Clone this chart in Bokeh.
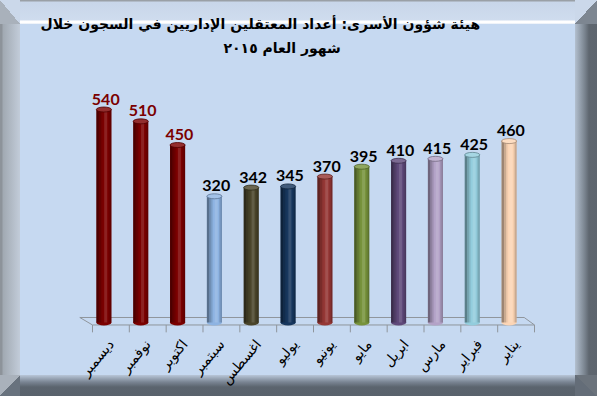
import math
from bokeh.plotting import figure
from bokeh.models import FactorRange, Range1d, ColumnDataSource, Title
from bokeh.transform import dodge
from bokeh.core.properties import value
from bokeh.embed import file_html
from bokeh.resources import INLINE

# ---- data ----
months = ["ديسمبر", "نوفمبر", "اكتوبر", "سبتمبر", "اغسطس", "يوليو",
          "يونيو", "مايو", "ابريل", "مارس", "فبراير", "يناير"]
counts = [540, 510, 450, 320, 342, 345, 370, 395, 410, 415, 425, 460]
bar_colors = ["#7b0000", "#7b0000", "#7b0000", "#8db3e2", "#4a452a", "#17375e",
              "#953735", "#77933c", "#5f497a", "#b3a2c7", "#93cddd", "#fcd5b5"]
label_colors = ["#7b0000", "#7b0000", "#7b0000"] + ["#000000"] * 9
title_line1 = "هيئة شؤون الأسرى: أعداد المعتقلين الإداريين في السجون خلال"
title_line2 = "شهور العام ٢٠١٥"

BG = "#c6d9f1"


def mix(c, other, t):
    c = c.lstrip("#"); o = other.lstrip("#")
    a = [int(c[i:i + 2], 16) for i in (0, 2, 4)]
    b = [int(o[i:i + 2], 16) for i in (0, 2, 4)]
    return "#%02x%02x%02x" % tuple(int(round(a[i] * (1 - t) + b[i] * t)) for i in range(3))


cap_colors = [mix(c, "#ffffff", 0.18) for c in bar_colors]
cap_lines = [mix(c, "#000000", 0.35) for c in bar_colors]

src = ColumnDataSource(dict(month=months, count=counts, color=bar_colors,
                            cap=cap_colors, capline=cap_lines,
                            label=[str(v) for v in counts], lcolor=label_colors,
                            zero=[0] * len(months)))

p = figure(x_range=FactorRange(*months, range_padding=0.434, range_padding_units="absolute"),
           y_range=Range1d(-27.9, 664.3),
           width=597, height=396, output_backend="svg", toolbar_location=None,
           title=None, y_axis_location=None,
           min_border_left=76, min_border_right=47, min_border_top=60, min_border_bottom=63,
           background_fill_color=BG, border_fill_color=BG)
p.border_fill_alpha = 0
p.outline_line_color = None
p.grid.visible = False

# bevelled picture frame drawn as the figure's CSS background (behind the transparent border)
LB, TB, RB, BB = 20, 24, 22, 21
layers = [
    ("linear-gradient(to top right, #a9b1bb 50%, #cbd8ea 50%)", "%dpx %dpx" % (LB, TB), "left top"),
    ("linear-gradient(to top left, #7d8691 50%, #cbd8ea 50%)", "%dpx %dpx" % (RB, TB), "right top"),
    ("linear-gradient(to bottom right, #a9b1bb 50%, #68727e 50%)", "%dpx %dpx" % (LB, BB), "left bottom"),
    ("linear-gradient(to bottom left, #6b737c 50%, #646d78 50%)", "%dpx %dpx" % (RB, BB), "right bottom"),
    ("linear-gradient(to bottom, #9aa0a6 0px, #9aa0a6 1px, #c8d6e9 2px, #cfdcee 20px, "
     "#ffffff 21px, #ffffff 23px, #dfe8f4 24px)", "100%% %dpx" % TB, "left top"),
    ("linear-gradient(to right, #8d939a 0px, #8d939a 2px, #a1a9b2 3px, #c2ccd9 20px)",
     "%dpx 100%%" % LB, "left top"),
    ("linear-gradient(to left, #5d656e 0px, #5e666f 8px, #78828d 12px, #b3c0cf 22px)",
     "%dpx 100%%" % RB, "right top"),
    ("linear-gradient(to top, #59626c 0px, #5b646e 9px, #7a8593 14px, #b8c6d8 21px)",
     "100%% %dpx" % BB, "left bottom"),
]
p.styles = {
    "background-color": BG,
    "background-image": ", ".join(l[0] for l in layers),
    "background-size": ", ".join(l[1] for l in layers),
    "background-position": ", ".join(l[2] for l in layers),
    "background-repeat": "no-repeat",
}

# floor of the 3D chart
floor_x = [(months[0], -0.844), (months[0], -0.5), (months[-1], 0.5), (months[-1], 0.22), (months[0], -0.844)]
floor_y = [12.7, -6.3, -6.3, 12.7, 12.7]
p.line(x=floor_x, y=floor_y, line_color="#8f959c", line_width=1)
p.segment(x0=dodge("month", 0.5, range=p.x_range), x1=dodge("month", 0.5, range=p.x_range),
          y0=-6.3, y1=-25, source=src, line_color="#8f959c", line_width=1)
p.segment(x0=[(months[0], -0.5)], x1=[(months[0], -0.5)], y0=[-6.3], y1=[-25],
          line_color="#8f959c", line_width=1)

# cylinders
OFF = -0.19
W = 0.41
p.ellipse(x=dodge("month", OFF, range=p.x_range), y="zero", width=W, height=6,
          height_units="screen", source=src, fill_color="color", line_color=None)
p.vbar(x=dodge("month", OFF, range=p.x_range), top="count", bottom=0, width=W,
       source=src, fill_color="color", line_color=None)
shade = [(-0.42, 0.16, "#000000", 0.38), (-0.27, 0.14, "#000000", 0.2),
         (-0.15, 0.10, "#000000", 0.08), (0.12, 0.2, "#ffffff", 0.13),
         (0.35, 0.1, "#000000", 0.1), (0.45, 0.1, "#000000", 0.22)]
for c, w, col, a in shade:
    p.vbar(x=dodge("month", OFF + c * W, range=p.x_range), top="count", bottom=0, width=w * W,
           source=src, fill_color=col, fill_alpha=a, line_color=None)
p.ellipse(x=dodge("month", OFF, range=p.x_range), y="count", width=W, height=5,
          height_units="screen", source=src, fill_color="cap", line_color="capline", line_width=0.8)

# value labels
p.text(x=dodge("month", OFF + 0.05, range=p.x_range), y="count", text="label", source=src,
       text_align="center", text_baseline="bottom", y_offset=-5,
       text_font=value("Lato"), text_font_style="bold", text_font_size="16px",
       text_color="lcolor")

# axis
ax = p.xaxis[0]
ax.axis_line_color = None
ax.major_tick_line_color = None
ax.minor_tick_line_color = None
ax.major_tick_out = 0
ax.major_tick_in = 0
ax.major_label_orientation = 0.87
ax.major_label_text_font = "DejaVu Sans"
ax.major_label_text_font_size = "14px"
ax.major_label_text_color = "#000000"
ax.major_label_standoff = 8

# titles
t2 = Title(text=title_line2, align="left", offset=147, text_font="DejaVu Sans",
           text_font_size="14px", text_font_style="bold", text_color="#000000", standoff=10)
t1 = Title(text=title_line1, align="left", offset=-36, text_font="DejaVu Sans",
           text_font_size="14px", text_font_style="bold", text_color="#000000", standoff=2)
p.add_layout(t2, "above")
p.add_layout(t1, "above")

open("out.html", "w").write(file_html(p, INLINE))
